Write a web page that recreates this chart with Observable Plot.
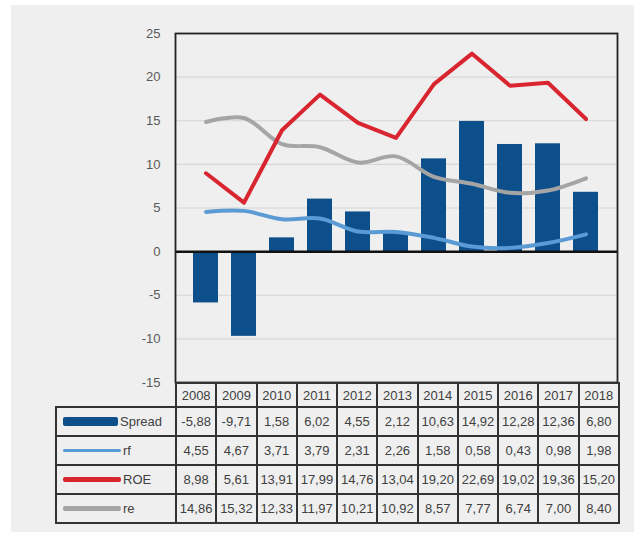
<!DOCTYPE html>
<html><head><meta charset="utf-8">
<script src="https://cdn.jsdelivr.net/npm/d3@7"></script>
<script src="https://cdn.jsdelivr.net/npm/@observablehq/plot@0.6"></script>
<style>
body{margin:0;background:#fff;font-family:"Liberation Sans Narrow","Liberation Sans",Arial,sans-serif;}
#wrap{position:relative;width:634px;height:533px;overflow:hidden;}
#panel{position:absolute;left:11px;top:5px;width:623px;height:527px;background:#efefef;}
#chart{position:absolute;left:0;top:0;}
#tbl{position:absolute;left:55px;top:382px;border-collapse:collapse;table-layout:fixed;width:563px;font-size:13px;color:#404040;}
#tbl td{border:2px solid #333;text-align:center;padding:0;height:27px;white-space:nowrap;overflow:hidden;}
#tbl td.blank{border:none;border-right:2px solid #333;}
#tbl tr.head td{height:22px;}
.leg{display:flex;align-items:center;justify-content:flex-start;padding-left:6px;}
</style></head>
<body><div id="wrap"><div id="panel"></div><div id="chart"></div></div>
<script>
const years = ["2008","2009","2010","2011","2012","2013","2014","2015","2016","2017","2018"];
const spread = [-5.88,-9.71,1.58,6.02,4.55,2.12,10.63,14.92,12.28,12.36,6.80];
const rf = [4.55,4.67,3.71,3.79,2.31,2.26,1.58,0.58,0.43,0.98,1.98];
const roe = [8.98,5.61,13.91,17.99,14.76,13.04,19.20,22.69,19.02,19.36,15.20];
const re = [14.86,15.32,12.33,11.97,10.21,10.92,8.57,7.77,6.74,7.00,8.40];
const seriesNames = ["Spread","rf","ROE","re"];
const yTicks = [-15,-10,-5,0,5,10,15,20,25];
const colors = {Spread:"#0d4f8b", rf:"#5b9bd5", ROE:"#d9252f", re:"#a5a5a5"};

const rows = years.map((y,i)=>({year:y, spread:spread[i], rf:rf[i], roe:roe[i], re:re[i]}));

const plot = Plot.plot({
  width:634, height:395,
  marginLeft:175, marginRight:17, marginTop:33, marginBottom:13,
  style:{background:"transparent", fontFamily:"Liberation Sans, Arial, sans-serif", fontSize:"13px", color:"#595959"},
  x:{type:"band", domain:years, padding:0.34, axis:null},
  y:{domain:[-15,25], ticks:yTicks, tickSize:0, tickPadding:15, label:null, tickFormat:d=>String(d)},
  marks:[
    Plot.gridY(yTicks, {stroke:"#d6d6d6", strokeOpacity:1, strokeWidth:1.2}),
    Plot.barY(rows, {x:"year", y:"spread", fill:colors.Spread}),
    Plot.ruleY([0], {stroke:"#111", strokeWidth:2.5}),
    Plot.line(rows, {x:"year", y:"rf", stroke:colors.rf, strokeWidth:4, curve:"catmull-rom"}),
    Plot.line(rows, {x:"year", y:"re", stroke:colors.re, strokeWidth:4, curve:"catmull-rom"}),
    Plot.line(rows, {x:"year", y:"roe", stroke:colors.ROE, strokeWidth:4}),
    Plot.frame({stroke:"#222", strokeWidth:1.8})
  ]
});
document.getElementById("chart").appendChild(plot);

// table
const vals = {Spread:spread, rf:rf, ROE:roe, re:re};
const fmt = v => v.toFixed(2).replace(".", ",");
const table = d3.select("#wrap").append("table").attr("id","tbl");
const cg = table.append("colgroup");
cg.append("col").style("width","120px");
years.forEach(()=>cg.append("col").style("width","40.27px"));
const head = table.append("tr").attr("class","head");
head.append("td").attr("class","blank");
years.forEach(y=>head.append("td").text(y));
const swatch = {
  Spread:{w:55,h:9,c:colors.Spread},
  rf:{w:58,h:3.5,c:colors.rf},
  ROE:{w:58,h:4.5,c:colors.ROE},
  re:{w:58,h:4.5,c:colors.re}
};
seriesNames.forEach(n=>{
  const tr = table.append("tr");
  const td = tr.append("td");
  const div = td.append("div").attr("class","leg");
  div.append("span").style("display","inline-block").style("width",swatch[n].w+"px")
     .style("height",swatch[n].h+"px").style("background",swatch[n].c).style("margin-right","2px")
     .style("border-radius","2px");
  div.append("span").text(n);
  vals[n].forEach(v=>tr.append("td").text(fmt(v)));
});
</script></body></html>
